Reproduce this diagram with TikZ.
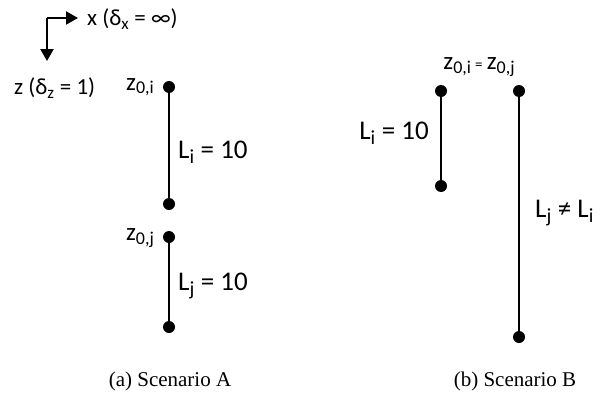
\documentclass[tikz,border=0pt]{standalone}
\usepackage{fontspec}
\setmainfont{Carlito}
\newfontfamily\capfont{Liberation Serif}
\usetikzlibrary{arrows.meta}
\renewcommand\defaultscriptratio{.74}
\newcommand\zsub[1]{\raisebox{-0.14em}{\fontsize{18}{20}\selectfont #1}}
\begin{document}
\begin{tikzpicture}[x=1pt,y=-1pt,
  dot/.style={circle,fill=black,inner sep=0pt,minimum size=12pt},
  seg/.style={line width=2pt},
  lab/.style={font=\fontsize{27}{30}\selectfont,inner sep=0pt},
  zlab/.style={font=\fontsize{25}{28}\selectfont,inner sep=0pt},
  axlab/.style={font=\fontsize{23}{27}\selectfont,inner sep=0pt},
  captext/.style={font=\capfont\fontsize{21}{24}\selectfont,inner sep=0pt},
  ax/.style={line width=2.2pt,-{Triangle[length=12pt,width=13pt]}}]
\useasboundingbox (0,0) rectangle (609,412);
% axes
\coordinate (c) at (47,18);
\coordinate (xe) at (78,18);
\coordinate (ze) at (47,61);
\draw[ax] (c) -- (xe);
\draw[ax] (c) -- (ze);
\node[axlab,anchor=west] (xl) at (87,19) {x (δ\textsubscript{x} = ∞)};
\node[axlab,anchor=west] (zl) at (14,88) {z (δ\textsubscript{z} = 1)};
% Scenario A
\node[dot] (a1) at (169,87) {};
\node[dot] (a2) at (169,204) {};
\node[dot] (a3) at (169,237) {};
\node[dot] (a4) at (169,327) {};
\draw[seg] (a1) -- (a2);
\draw[seg] (a3) -- (a4);
\node[zlab,anchor=east] (z0i) at (154,87) {z\zsub{0,i}};
\node[lab,anchor=west] (LiA) at (178,152) {L\textsubscript{i} = 10};
\node[zlab,anchor=east] (z0j) at (154,238) {z\zsub{0,j}};
\node[lab,anchor=west] (LjA) at (178,286) {L\textsubscript{j} = 10};
% Scenario B
\node[dot] (b1) at (441,91) {};
\node[dot] (b2) at (441,186) {};
\node[dot] (b3) at (519,91) {};
\node[dot] (b4) at (519,337) {};
\draw[seg] (b1) -- (b2);
\draw[seg] (b3) -- (b4);
\node[zlab] (zeq) at (479,67) {z\zsub{0,i}\,{\fontsize{15}{16}\selectfont =}\,z\zsub{0,j}};
\node[lab,anchor=east] (LiB) at (429,133) {L\textsubscript{i} = 10};
\node[lab,anchor=west] (LjB) at (535,213) {L\textsubscript{j} ≠ L\textsubscript{i}};
% captions
\node[captext] (ca) at (170,381) {(a) Scenario A};
\node[captext] (cb) at (515,381) {(b) Scenario B};
\end{tikzpicture}
\end{document}
